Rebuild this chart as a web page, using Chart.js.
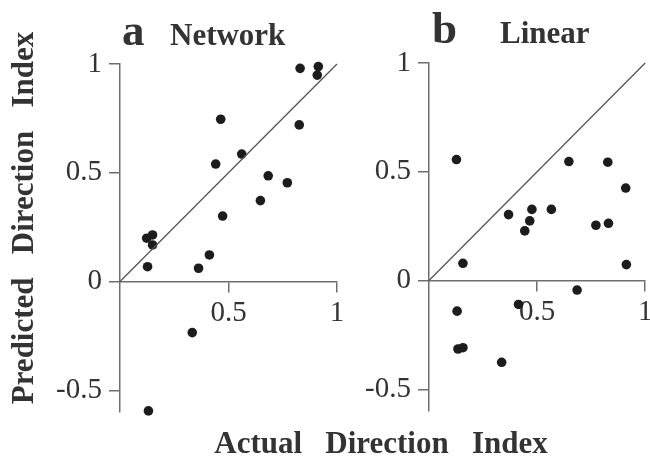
<!DOCTYPE html>
<html>
<head>
<meta charset="utf-8">
<script src="https://cdn.jsdelivr.net/npm/chart.js@4/dist/chart.umd.min.js"></script>
<style>
  html, body { margin: 0; padding: 0; background: #fff; }
  #wrap { position: relative; width: 650px; height: 461px; overflow: hidden; }
  #wrap canvas { position: absolute; top: 0; }
</style>
</head>
<body>
<div id="wrap">
  <canvas id="chartA" width="650" height="461" style="left:0"></canvas>
  <canvas id="chartB" width="290" height="461" style="left:360px"></canvas>
</div>
<script>
// panel a: network model
const networkX = [0.83, 0.914, 0.909, 0.464, 0.826, 0.561, 0.441, 0.683, 0.771, 0.647, 0.473, 0.123, 0.150, 0.150, 0.127, 0.412, 0.362, 0.333, 0.131];
const networkY = [0.98, 0.988, 0.949, 0.746, 0.72, 0.586, 0.54, 0.486, 0.454, 0.372, 0.301, 0.199, 0.214, 0.168, 0.068, 0.122, 0.061, -0.235, -0.595];

// panel b: linear model
const linearX = [0.127, 0.647, 0.827, 0.910, 0.368, 0.476, 0.566, 0.466, 0.443, 0.772, 0.830, 0.157, 0.913, 0.685, 0.414, 0.130, 0.134, 0.157, 0.336];
const linearY = [0.556, 0.547, 0.544, 0.425, 0.303, 0.327, 0.327, 0.274, 0.228, 0.254, 0.263, 0.079, 0.073, -0.044, -0.110, -0.141, -0.315, -0.309, -0.376];

const identityLine = [0, 1];
const xTicks = [0.5, 1];
const yTicks = [-0.5, 0, 0.5, 1];
const yRange = [-0.6, 1];

const SERIF = '"Liberation Serif", "Times New Roman", serif';
const AXIS_COLOR = '#6e6e6e';
const TEXT_COLOR = '#333';

function toPoints(xs, ys) {
    return xs.map((x, i) => ({ x: x, y: ys[i] }));
}

// draws panel letter + name, and (for panel a) the shared axis titles
const textPlugin = {
    id: 'panelText',
    afterDraw: function (chart, args, opts) {
        const ctx = chart.ctx;
        ctx.save();
        ctx.fillStyle = TEXT_COLOR;
        ctx.textBaseline = 'alphabetic';
        ctx.textAlign = 'left';
        ctx.font = 'bold 45px ' + SERIF;
        ctx.fillText(opts.letter, opts.letterX, opts.baseline);
        ctx.font = 'bold 31px ' + SERIF;
        ctx.fillText(opts.name, opts.nameX, opts.baseline);
        if (opts.axisTitles) {
            ctx.textAlign = 'center';
            ctx.fillText('Actual   Direction   Index', 381, 453);
            ctx.translate(33, 218);
            ctx.rotate(-Math.PI / 2);
            ctx.fillText('Predicted   Direction   Index', 0, 0);
        }
        ctx.restore();
    }
};

function noPadding(scale) {
    scale.paddingLeft = 0;
    scale.paddingRight = 0;
    scale.paddingTop = 0;
    scale.paddingBottom = 0;
}

function makePanel(canvas, xs, ys, yWidth, padding, textOpts) {
    return new Chart(canvas.getContext('2d'), {
        type: 'scatter',
        data: {
            datasets: [{
                data: toPoints(identityLine, identityLine),
                showLine: true,
                pointRadius: 0,
                borderColor: '#555',
                borderWidth: 1.3,
                clip: false
            }, {
                data: toPoints(xs, ys),
                pointRadius: 4.8,
                pointBackgroundColor: '#1c1c1c',
                pointBorderWidth: 0,
                clip: false
            }]
        },
        options: {
            responsive: false,
            animation: false,
            layout: { padding: padding },
            plugins: {
                legend: { display: false },
                tooltip: { enabled: false },
                panelText: textOpts
            },
            scales: {
                x: {
                    type: 'linear',
                    position: { y: 0 },
                    min: 0,
                    max: 1,
                    afterBuildTicks: function (scale) {
                        scale.ticks = xTicks.map(v => ({ value: v }));
                    },
                    afterFit: noPadding,
                    grid: { drawOnChartArea: false, tickLength: 10, color: AXIS_COLOR, lineWidth: 1.5 },
                    border: { color: AXIS_COLOR, width: 1.5 },
                    ticks: {
                        color: TEXT_COLOR,
                        padding: 4,
                        maxRotation: 0,
                        font: { family: SERIF, size: 29 },
                        callback: v => String(v)
                    }
                },
                y: {
                    type: 'linear',
                    min: yRange[0],
                    max: yRange[1],
                    afterBuildTicks: function (scale) {
                        scale.ticks = yTicks.map(v => ({ value: v }));
                    },
                    afterFit: function (scale) {
                        scale.width = yWidth;
                        noPadding(scale);
                    },
                    grid: { drawOnChartArea: false, tickLength: 11, color: AXIS_COLOR, lineWidth: 1.5 },
                    border: { color: AXIS_COLOR, width: 1.5 },
                    ticks: {
                        color: TEXT_COLOR,
                        padding: 7,
                        font: { family: SERIF, size: 29 },
                        callback: v => String(v)
                    }
                }
            }
        },
        plugins: [textPlugin]
    });
}

makePanel(document.getElementById('chartA'), networkX, networkY, 120,
    { left: 0, right: 313, top: 64, bottom: 49 },
    { letter: 'a', name: 'Network', letterX: 122, nameX: 170, baseline: 45, axisTitles: true });

makePanel(document.getElementById('chartB'), linearX, linearY, 69,
    { left: 0, right: 3, top: 63, bottom: 50 },
    { letter: 'b', name: 'Linear', letterX: 72, nameX: 140, baseline: 43, axisTitles: false });
</script>
</body>
</html>
